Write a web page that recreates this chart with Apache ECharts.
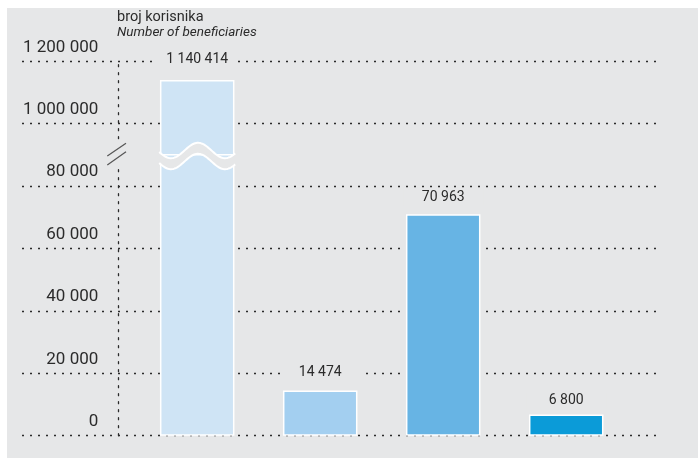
<!DOCTYPE html>
<html>
<head>
<meta charset="utf-8">
<script src="https://cdn.jsdelivr.net/npm/echarts@6/dist/echarts.min.js"></script>
<style>html,body{margin:0;padding:0;background:#fff}#chart{width:698px;height:458px}</style>
</head>
<body>
<div id="chart"></div>
<script>
// ---- data ----
const categories = ['A', 'B', 'C', 'D'];
const beneficiaries = [1140414, 14474, 70963, 6800];
const lowerTickValues = [0, 20000, 40000, 60000, 80000];
const upperTickValues = [1000000, 1200000];

// ---- axis break setup ----
const LOWER_MIN = 0, LOWER_MAX = 90000, LOWER_STEP = 20000;
const UPPER_MIN = 900000, UPPER_MAX = 1200000, UPPER_STEP = 100000;

// ---- styles ----
const BG = '#e6e7e8';
const INK = '#2b2b2b';
const barColors = ['#cfe4f5', '#a3cff0', '#67b4e4', '#0b9bd8'];
const labelLift = [13, 10.5, 9, 5.5];
const BAR_W = 74.5;
const GRID_L = 22, GRID_R = 42;
const AXIS_SHIFT = 96.3;
const FONT = 'Roboto, "Open Sans", sans-serif';

function fmt(v) {
  return String(Math.round(v)).replace(/\B(?=(\d{3})+(?!\d))/g, ' ');
}

function tickList(min, max, step) {
  const out = [];
  for (let v = min; v < max; v += step) out.push(v);
  out.push(max);
  return out;
}

function makeYAxis(gridIndex, min, max, step, shown) {
  const ticks = tickList(min, max, step);
  const lineColors = ticks.map(v => shown.includes(v) ? INK : 'rgba(0,0,0,0)');
  return {
    type: 'value', gridIndex, min, max, interval: step,
    offset: -AXIS_SHIFT,
    axisLine: { show: true, onZero: false, lineStyle: { color: INK, width: 1.3, type: [2, 6] } },
    axisTick: { show: false },
    splitLine: { show: true, lineStyle: { color: lineColors, width: 1.3, type: [2, 6] } },
    axisLabel: {
      show: true, margin: 20, fontSize: 17, color: INK, fontFamily: FONT,
      verticalAlign: 'bottom', lineHeight: 28,
      showMinLabel: true, showMaxLabel: true,
      formatter: v => shown.includes(v) ? fmt(v) : ''
    }
  };
}

const xAxisBase = { type: 'value', min: -1.4244, max: 3.730, show: false };

function barItems(filterFn) {
  return categories.map((c, i) => ({
    name: c,
    value: [i, beneficiaries[i]],
    itemStyle: { color: barColors[i] },
    label: { show: filterFn(beneficiaries[i]), distance: labelLift[i] }
  }));
}

const barLabel = {
  position: 'top', fontSize: 14, color: INK, fontFamily: FONT,
  backgroundColor: BG, width: 80, align: 'center', padding: [1, 0],
  formatter: p => fmt(p.value[1])
};

const brokenBars = categories.map((c, i) => i).filter(i => beneficiaries[i] > LOWER_MAX);

const option = {
  animation: false,
  graphic: [{
    type: 'rect', left: 7, top: 8, z: -100,
    shape: { width: 691, height: 450 }, style: { fill: BG }
  }],
  title: {
    text: 'broj korisnika', subtext: 'Number of beneficiaries',
    left: 117, top: 9, padding: 0, itemGap: 0,
    textStyle: { fontSize: 14.5, fontWeight: 'normal', color: INK, fontFamily: FONT, lineHeight: 16 },
    subtextStyle: { fontSize: 13.5, fontStyle: 'italic', color: INK, fontFamily: FONT, lineHeight: 16 }
  },
  grid: [
    { left: GRID_L, right: GRID_R, top: 61.5, height: 93.2 },
    { left: GRID_L, right: GRID_R, top: 154.7, height: 281 }
  ],
  xAxis: [
    Object.assign({ gridIndex: 0 }, xAxisBase),
    Object.assign({ gridIndex: 1 }, xAxisBase)
  ],
  yAxis: [
    makeYAxis(0, UPPER_MIN, UPPER_MAX, UPPER_STEP, upperTickValues),
    makeYAxis(1, LOWER_MIN, LOWER_MAX, LOWER_STEP, lowerTickValues)
  ],
  series: [
    {
      type: 'bar', xAxisIndex: 0, yAxisIndex: 0, clip: true, barWidth: BAR_W, z: 2,
      itemStyle: { borderColor: '#fff', borderWidth: 1.5 },
      label: barLabel,
      data: barItems(v => v > UPPER_MIN)
    },
    {
      type: 'bar', xAxisIndex: 1, yAxisIndex: 1, clip: true, barWidth: BAR_W, z: 2,
      itemStyle: { borderColor: '#fff', borderWidth: 1.5 },
      label: barLabel,
      data: barItems(v => v <= LOWER_MAX)
    },
    {
      type: 'custom', xAxisIndex: 1, yAxisIndex: 1, z: 5, clip: false,
      data: brokenBars.map(i => [i, LOWER_MAX]),
      renderItem(params, api) {
        const p = api.coord([api.value(0), api.value(1)]);
        const cx = p[0], cy = p[1];
        const half = BAR_W / 2 + 0.75;
        const A = 7.7, P = 54;
        const line = off => {
          const arr = [];
          for (let dx = -half; dx <= half + 0.001; dx += 1) {
            arr.push([cx + dx, cy + off - A * Math.cos(2 * Math.PI * (dx - 0.8) / P)]);
          }
          return arr;
        };
        const up = line(-4.2), lo = line(6.8);
        const children = [
          { type: 'polygon', shape: { points: up.concat(lo.slice().reverse()) }, style: { fill: BG } },
          { type: 'polyline', shape: { points: up }, style: { stroke: '#fff', lineWidth: 2, fill: null } },
          { type: 'polyline', shape: { points: lo }, style: { stroke: '#fff', lineWidth: 2, fill: null } }
        ];
        if (params.dataIndex === 0) {
          const ax = params.coordSys.x + AXIS_SHIFT;
          children.push(
            { type: 'rect', shape: { x: ax - 3, y: cy - 15, width: 6, height: 28 }, style: { fill: BG } },
            { type: 'line', shape: { x1: ax - 11, y1: cy + 1.3, x2: ax + 7.7, y2: cy - 11.4 }, style: { stroke: '#555', lineWidth: 1.2 } },
            { type: 'line', shape: { x1: ax - 11, y1: cy + 10.3, x2: ax + 7.7, y2: cy - 3 }, style: { stroke: '#555', lineWidth: 1.2 } }
          );
        }
        return { type: 'group', children };
      }
    }
  ]
};

const chart = echarts.init(document.getElementById('chart'), null, { renderer: 'canvas' });
chart.setOption(option);
</script>
</body>
</html>
